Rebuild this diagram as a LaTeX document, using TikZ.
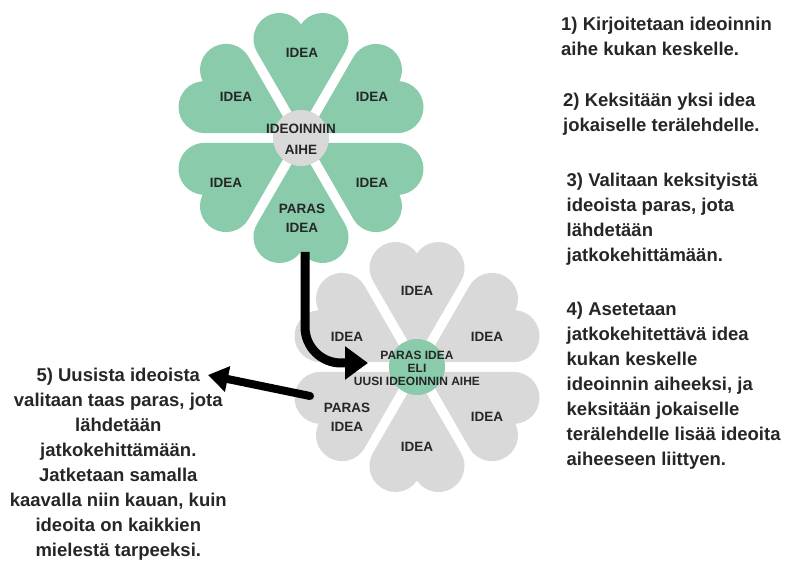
\documentclass[tikz,border=0pt]{standalone}
\usepackage{fontspec}
\setmainfont{Liberation Sans}
\usepackage{tikz}
\usetikzlibrary{arrows.meta}
\usepackage{xcolor}

\definecolor{verdeflor}{RGB}{137,203,171}
\definecolor{cinzaflor}{RGB}{217,217,217}
\definecolor{textoescuro}{RGB}{38,38,38}

% Petala em forma de coracao: {centro}{angulo}{cor}
\newcommand{\petala}[3]{%
  \fill[#3, shift={#1}, rotate=#2] (10,0) -- (86,44)
    arc[start angle=120, end angle=-55.8, radius=26]
    arc[start angle=55.8, end angle=-120, radius=26] -- cycle;
}

\begin{document}
\begin{tikzpicture}[
        x=1pt, y=1pt,
        % Estilos
        passo/.style={font=\fontsize{18.5}{25}\selectfont\bfseries, text=textoescuro, inner sep=0pt},
        rotulo/.style={font=\fontsize{13.5}{19}\selectfont\bfseries, text=textoescuro, align=center, inner sep=0pt},
        miolo/.style={circle, minimum size=56pt, inner sep=0pt},
        seta/.style={line width=9pt, -{Triangle[length=23pt,width=32pt]}}
    ]
        \path[fill=white] (0,0) rectangle (787,565);
        \useasboundingbox (0,0) rectangle (787,565);

        % Flor 2: cinza, abaixo
        \foreach \ang in {30,90,...,330} {\petala{(417,198)}{\ang}{cinzaflor}}
        \node (miolo2) [miolo, fill=verdeflor] at (417,198) {};
        \node (tema2) [rotulo, font=\fontsize{12}{13}\selectfont\bfseries] at (417,197) {PARAS IDEA\\ELI\\UUSI IDEOINNIN AIHE};
        \node (f2a) [rotulo] at (417,274) {IDEA};
        \node (f2b) [rotulo] at (347,228) {IDEA};
        \node (f2c) [rotulo] at (487,228) {IDEA};
        \node (f2d) [rotulo] at (347,148) {PARAS\\IDEA};
        \node (f2e) [rotulo] at (487,148) {IDEA};
        \node (f2f) [rotulo] at (417,118) {IDEA};

        % Flor 1: verde, acima
        \foreach \ang in {30,90,...,330} {\petala{(301,427)}{\ang}{verdeflor}}
        \node (miolo1) [miolo, fill=cinzaflor] at (301,427) {};
        \node (tema1) [rotulo, font=\fontsize{13.5}{21}\selectfont\bfseries] at (301,425.5) {IDEOINNIN\\AIHE};
        \node (f1a) [rotulo] at (302,512) {IDEA};
        \node (f1b) [rotulo] at (236,468) {IDEA};
        \node (f1c) [rotulo] at (372,468) {IDEA};
        \node (f1d) [rotulo] at (226,382) {IDEA};
        \node (f1e) [rotulo] at (372,382) {IDEA};
        \node (f1f) [rotulo] at (302,346.5) {PARAS\\IDEA};

        % Textos dos passos
        \node (passo1) [passo, anchor=north west, align=left] at (561,547.6) {1) Kirjoitetaan ideoinnin\\aihe kukan keskelle.};
        \node (passo2) [passo, anchor=north west, align=left] at (563,472.2) {2) Keksitään yksi idea\\jokaiselle terälehdelle.};
        \node (passo3) [passo, anchor=north west, align=left] at (566.5,392.6) {3) Valitaan keksityistä\\ideoista paras, jota\\lähdetään\\jatkokehittämään.};
        \node (passo4) [passo, anchor=north west, align=left] at (566.5,263.3) {4) Asetetaan\\jatkokehitettävä idea\\kukan keskelle\\ideoinnin aiheeksi, ja\\keksitään jokaiselle\\terälehdelle lisää ideoita\\aiheeseen liittyen.};
        \node (passo5) [passo, anchor=north, align=center] at (118.3,197.6) {5) Uusista ideoista\\valitaan taas paras, jota\\lähdetään\\jatkokehittämään.\\Jatketaan samalla\\kaavalla niin kauan, kuin\\ideoita on kaikkien\\mielestä tarpeeksi.};

        % --- Setas ---
        \coordinate (saida1) at (305,313);
        \coordinate (entrada2) at (368,202);
        \coordinate (saida2) at (310,169);
        \coordinate (alvo5) at (208,190);

        \draw [seta, rounded corners=36pt] (saida1) |- (entrada2);
        \draw [seta, line width=8pt, line cap=round, -{Triangle[length=20pt,width=25pt]}] (saida2) -- (alvo5);

    \end{tikzpicture}
\end{document}
